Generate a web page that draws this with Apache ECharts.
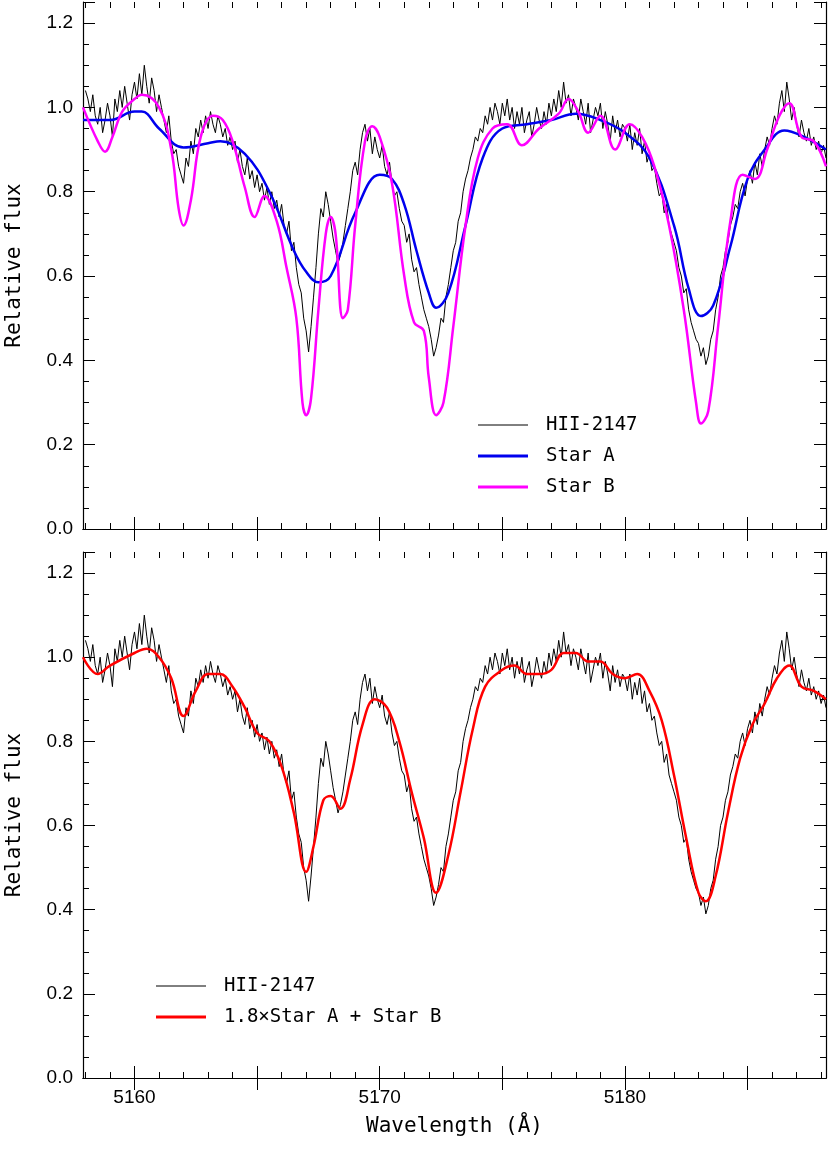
<!DOCTYPE html>
<html><head><meta charset="utf-8">
<script src="https://cdn.jsdelivr.net/npm/echarts@6/dist/echarts.min.js"></script>
<style>body{margin:0;background:#fff}#c{width:830px;height:1155px}</style>
</head><body><div id="c"></div>
<script>
// observed spectrum, 0.1 A steps from 5158.0
var obsStart = 5158.0, obsStep = 0.1;
var observed = [
1.04,1.02,0.99,1.03,0.98,0.96,1.00,0.94,0.97,1.01,
0.98,0.93,1.02,0.99,1.04,1.00,1.05,1.01,0.97,1.03,
1.06,1.02,1.08,1.03,1.10,1.05,1.01,1.07,1.04,0.99,
1.03,1.00,0.97,0.94,0.98,0.92,0.89,0.90,0.86,0.84,
0.82,0.88,0.86,0.92,0.89,0.95,0.93,0.97,0.94,0.98,
0.95,0.99,0.96,0.94,0.98,0.96,0.93,0.95,0.91,0.93,
0.90,0.92,0.87,0.90,0.86,0.84,0.88,0.83,0.85,0.81,
0.84,0.80,0.82,0.78,0.81,0.77,0.80,0.76,0.78,0.74,
0.77,0.72,0.70,0.73,0.66,0.68,0.62,0.58,0.56,0.50,
0.47,0.42,0.48,0.55,0.62,0.70,0.76,0.74,0.80,0.77,
0.73,0.69,0.66,0.63,0.65,0.68,0.72,0.76,0.80,0.85,
0.87,0.84,0.90,0.94,0.96,0.92,0.95,0.89,0.93,0.90,
0.88,0.91,0.86,0.84,0.87,0.82,0.79,0.80,0.76,0.73,
0.72,0.68,0.70,0.64,0.61,0.62,0.58,0.55,0.52,0.50,
0.48,0.45,0.41,0.43,0.46,0.50,0.49,0.55,0.58,0.62,
0.66,0.68,0.73,0.75,0.80,0.83,0.85,0.88,0.90,0.93,
0.92,0.95,0.94,0.98,0.96,1.00,0.97,1.01,0.99,0.96,
1.01,0.98,1.02,0.97,1.00,0.95,0.99,0.96,1.00,0.94,
0.97,0.99,0.93,0.96,1.00,0.97,0.95,0.99,0.96,1.01,
0.98,1.02,0.99,1.04,1.00,1.06,1.01,1.03,0.98,1.02,
1.00,0.97,1.02,0.99,0.96,1.01,0.94,0.97,1.00,0.98,
1.01,0.95,0.99,0.96,0.92,0.98,0.94,0.97,0.93,0.96,
0.95,0.92,0.96,0.90,0.94,0.91,0.95,0.89,0.92,0.87,
0.89,0.85,0.86,0.82,0.79,0.80,0.75,0.77,0.72,0.70,
0.68,0.66,0.62,0.60,0.56,0.57,0.52,0.49,0.47,0.45,
0.44,0.41,0.43,0.39,0.41,0.45,0.47,0.52,0.55,0.60,
0.62,0.66,0.68,0.72,0.74,0.77,0.76,0.80,0.82,0.79,
0.83,0.85,0.82,0.87,0.84,0.89,0.86,0.90,0.93,0.91,
0.95,0.98,0.96,1.01,1.04,0.99,1.06,1.02,0.97,1.00,
0.96,0.93,0.97,0.94,0.92,0.95,0.91,0.93,0.90,0.92,
0.89,0.91,0.88
];
var starA = [[5157.9,0.97],[5159,0.97],[5160,0.99],[5160.3,0.99],[5161,0.95],[5162,0.905],[5163,0.915],[5163.5,0.92],
[5164.5,0.89],[5165.5,0.80],[5166.5,0.66],[5167,0.61],[5167.5,0.585],[5168,0.60],[5169,0.75],[5170,0.84],[5170.5,0.83],
[5171,0.77],[5171.5,0.66],[5172,0.56],[5172.3,0.525],[5172.8,0.56],[5173.5,0.72],[5174.2,0.88],[5175,0.95],[5176,0.96],
[5177,0.97],[5178,0.985],[5179,0.97],[5180,0.94],[5181,0.88],[5182,0.72],[5182.6,0.57],[5183.1,0.505],[5183.6,0.53],
[5184.3,0.67],[5185,0.83],[5185.7,0.90],[5186.5,0.945],[5187.3,0.93],[5188.2,0.90]];
var starB = [[5157.9,1.0],[5158.5,0.92],[5158.8,0.895],[5159.1,0.93],[5159.5,0.99],[5160,1.02],[5160.3,1.03],[5161,1.0],
[5161.5,0.9],[5161.8,0.76],[5162,0.72],[5162.3,0.78],[5162.7,0.93],[5163.2,0.98],[5163.6,0.97],[5164,0.92],[5164.5,0.81],
[5164.9,0.74],[5165.3,0.79],[5165.8,0.73],[5166.2,0.62],[5166.6,0.50],[5166.85,0.30],[5167,0.27],[5167.2,0.31],[5167.5,0.52],
[5167.8,0.70],[5168,0.74],[5168.2,0.70],[5168.5,0.50],[5168.7,0.52],[5169,0.72],[5169.4,0.92],[5169.7,0.955],[5170,0.93],
[5170.5,0.82],[5171,0.60],[5171.4,0.49],[5171.8,0.47],[5172,0.36],[5172.3,0.27],[5172.6,0.30],[5173,0.48],[5173.5,0.72],
[5174,0.88],[5174.6,0.95],[5175.2,0.96],[5175.8,0.91],[5176.5,0.95],[5177.3,0.985],[5177.7,1.02],[5178.1,0.99],[5178.5,0.94],
[5179,0.98],[5179.6,0.90],[5180.2,0.96],[5180.7,0.93],[5181.2,0.86],[5181.8,0.72],[5182.4,0.52],[5182.9,0.30],[5183.1,0.25],
[5183.4,0.28],[5183.8,0.48],[5184.3,0.73],[5184.8,0.84],[5185.3,0.83],[5185.8,0.90],[5186.3,0.98],[5186.7,1.01],[5187.2,0.93],
[5187.7,0.92],[5188.2,0.86]];
var combined = [[5157.9,1.0],[5158.5,0.96],[5159,0.98],[5160,1.01],[5160.5,1.02],[5161,1.0],[5161.5,0.95],[5162,0.86],
[5162.5,0.92],[5163,0.96],[5163.5,0.96],[5164,0.93],[5164.5,0.88],[5165,0.82],[5165.5,0.80],[5166,0.74],[5166.5,0.63],
[5167,0.49],[5167.3,0.55],[5167.7,0.66],[5168,0.67],[5168.4,0.64],[5168.8,0.71],[5169.3,0.84],[5169.8,0.90],[5170.3,0.88],
[5170.8,0.80],[5171.3,0.68],[5171.8,0.57],[5172.3,0.44],[5172.8,0.53],[5173.3,0.68],[5173.8,0.83],[5174.3,0.93],[5175,0.97],
[5175.5,0.98],[5176,0.96],[5176.5,0.96],[5177,0.97],[5177.5,1.01],[5178,1.01],[5178.5,0.99],[5179,0.99],[5179.5,0.96],
[5180,0.95],[5180.5,0.96],[5181,0.92],[5181.5,0.85],[5182,0.72],[5182.5,0.57],[5183,0.44],[5183.3,0.42],[5183.7,0.48],
[5184.2,0.63],[5184.7,0.76],[5185.2,0.84],[5185.7,0.89],[5186.2,0.95],[5186.7,0.98],[5187.2,0.93],[5187.7,0.92],[5188.2,0.90]];
var xLabels = [5160, 5170, 5180];
var xMajor = [5160, 5165, 5170, 5175, 5180, 5185];
var xMinor = [];
for (var v = 5158; v <= 5188; v++) xMinor.push(v);

var obsData = observed.map(function (y, i) { return [+(obsStart + i * obsStep).toFixed(1), y]; });
var XMIN = 5157.9, XMAX = 5188.2;
var tickFont = {fontFamily: 'Liberation Sans', fontSize: 19, color: '#000'};
var monoFont = 'DejaVu Sans Mono';

var chart = echarts.init(document.getElementById('c'));
var grids = [{left: 83, right: 4, top: 2, height: 527, outerBoundsMode: 'none', containLabel: false},
             {left: 83, right: 4, top: 552, height: 526, outerBoundsMode: 'none', containLabel: false}];
var xAxes = [], yAxes = [];
[0, 1].forEach(function (g) {
  xAxes.push({type: 'value', gridIndex: g, min: XMIN, max: XMAX, position: 'bottom',
    axisLine: {lineStyle: {color: '#000', width: 1.2}},
    axisTick: {inside: true, length: 12, customValues: xMajor, lineStyle: {color: '#000'}},
    axisLabel: g === 1 ? Object.assign({customValues: xLabels, margin: 10, formatter: function (v) { return String(v); }}, tickFont) : {show: false},
    splitLine: {show: false},
    name: g === 1 ? 'Wavelength (Å)' : '', nameLocation: 'middle', nameGap: 38,
    nameTextStyle: {fontFamily: monoFont, fontSize: 21, color: '#000'}});
  xAxes.push({type: 'value', gridIndex: g, min: XMIN, max: XMAX, position: 'top',
    axisLine: {lineStyle: {color: '#000', width: 1.2}},
    axisTick: {inside: true, length: 12, customValues: xMajor, lineStyle: {color: '#000'}},
    axisLabel: {show: false}, splitLine: {show: false}});
  xAxes.push({type: 'value', gridIndex: g, min: XMIN, max: XMAX, position: 'bottom', offset: 0,
    axisLine: {show: false},
    axisTick: {inside: true, length: 6, customValues: xMinor, lineStyle: {color: '#000'}},
    axisLabel: {show: false}, splitLine: {show: false}});
  xAxes.push({type: 'value', gridIndex: g, min: XMIN, max: XMAX, position: 'top', offset: 0,
    axisLine: {show: false},
    axisTick: {inside: true, length: 6, customValues: xMinor, lineStyle: {color: '#000'}},
    axisLabel: {show: false}, splitLine: {show: false}});
  yAxes.push({type: 'value', gridIndex: g, min: 0, max: 1.25, interval: 0.2, position: 'left',
    axisLine: {show: true, lineStyle: {color: '#000', width: 1.2}},
    axisTick: {show: true, inside: true, length: 12, lineStyle: {color: '#000'}},
    minorTick: {show: true, splitNumber: 4, length: 6, lineStyle: {color: '#000'}},
    axisLabel: Object.assign({showMaxLabel: false, formatter: function (v) { return v > 1.21 ? '' : v.toFixed(1); }, margin: 10}, tickFont),
    splitLine: {show: false},
    name: 'Relative flux', nameLocation: 'middle', nameGap: 58,
    nameTextStyle: {fontFamily: monoFont, fontSize: 21, color: '#000'}});
  yAxes.push({type: 'value', gridIndex: g, min: 0, max: 1.25, interval: 0.2, position: 'right',
    axisLine: {show: true, lineStyle: {color: '#000', width: 1.2}},
    axisTick: {show: true, inside: true, length: 12, lineStyle: {color: '#000'}},
    minorTick: {show: true, splitNumber: 4, length: 6, lineStyle: {color: '#000'}},
    axisLabel: {show: false}, splitLine: {show: false}});
});

function line(name, data, color, width, g, smooth) {
  return {name: name, type: 'line', data: data, xAxisIndex: g * 4, yAxisIndex: g * 2,
    showSymbol: false, smooth: smooth ? 0.4 : false, silent: true,
    lineStyle: {color: color, width: width}};
}

function legendItem(x, y, color, width, text) {
  return [
    {type: 'line', shape: {x1: x, y1: y, x2: x + 50, y2: y}, style: {stroke: color, lineWidth: width}},
    {type: 'text', x: x + 68, y: y, style: {text: text, fontFamily: monoFont, fontSize: 19, fill: '#000', verticalAlign: 'middle'}}
  ];
}
var graphics = [].concat(
  legendItem(478, 425, '#000', 1, 'HII-2147'),
  legendItem(478, 456, '#0000ee', 3, 'Star A'),
  legendItem(478, 487, '#ff00ff', 3, 'Star B'),
  legendItem(156, 986, '#000', 1, 'HII-2147'),
  legendItem(156, 1017, '#ff0000', 3, '1.8×Star A + Star B')
);

chart.setOption({
  animation: false,
  grid: grids,
  xAxis: xAxes,
  yAxis: yAxes,
  graphic: graphics,
  series: [
    line('HII-2147', obsData, '#000', 1, 0, false),
    line('Star A', starA, '#0000ee', 2.5, 0, true),
    line('Star B', starB, '#ff00ff', 2.5, 0, true),
    line('HII-2147', obsData, '#000', 1, 1, false),
    line('1.8×Star A + Star B', combined, '#ff0000', 2.5, 1, true)
  ]
});
</script>
</body></html>
